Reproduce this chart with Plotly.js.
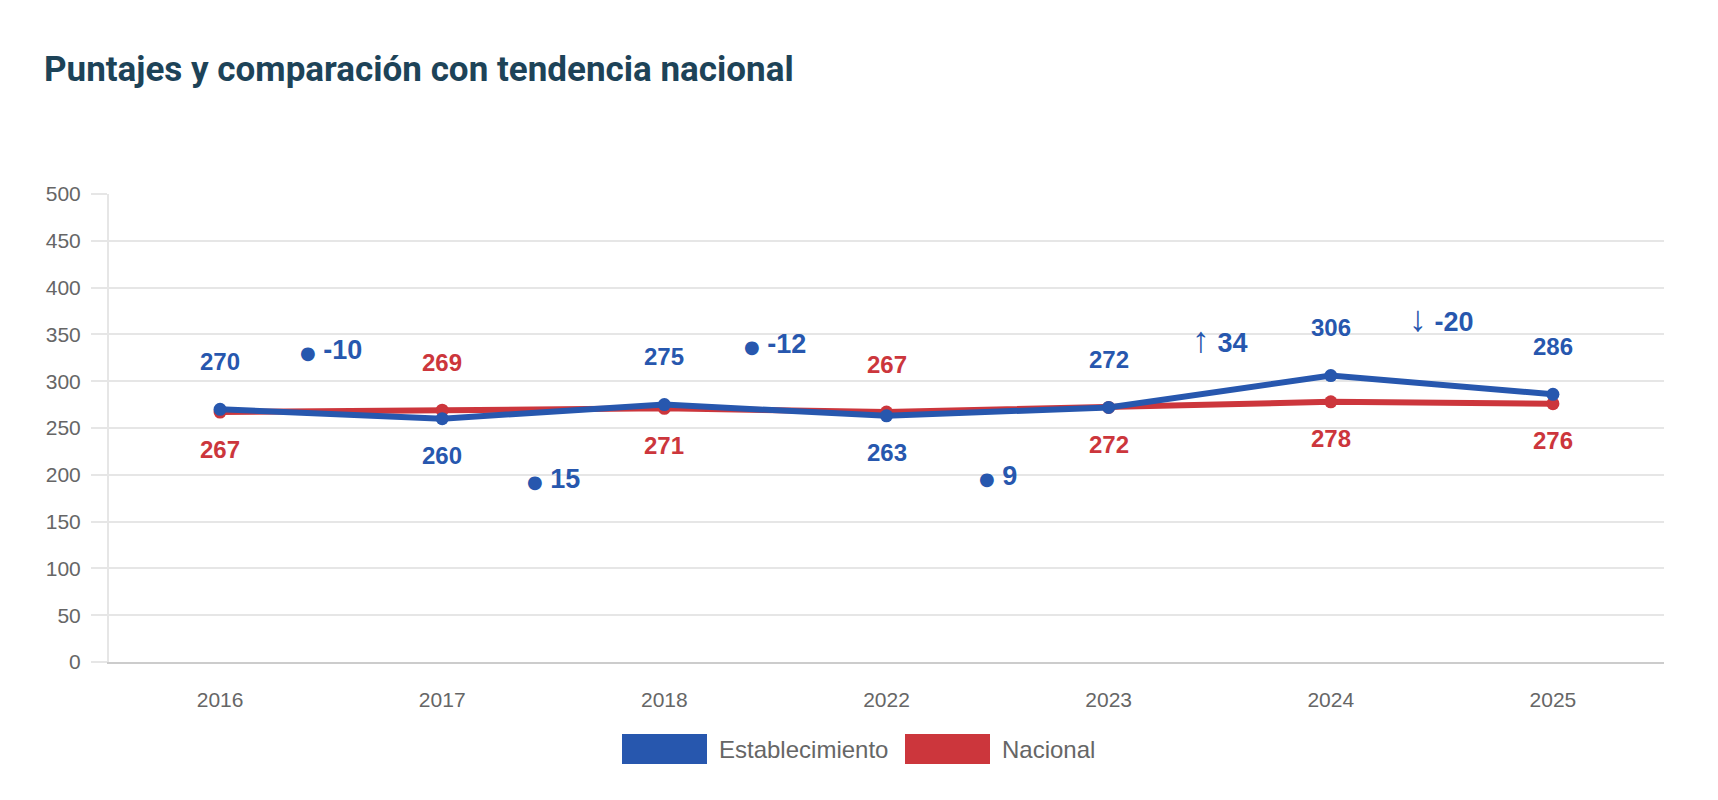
<!DOCTYPE html>
<html>
<head>
<meta charset="utf-8">
<script src="https://cdn.plot.ly/plotly-3.0.1.min.js"></script>
<style>
  html, body { margin: 0; padding: 0; background: #fff; }
  #chart_div { width: 1718px; height: 800px; }
</style>
</head>
<body>
<div id="chart_div"></div>
<script>
// values
var years = ['2016', '2017', '2018', '2022', '2023', '2024', '2025'];
var establecimiento = [270, 260, 275, 263, 272, 306, 286];
var nacional = [267, 269, 271, 267, 272, 278, 276];

// change between consecutive years (shown between the points)
var cambios = [-10, 15, -12, 9, 34, -20];
var cambiosMarca = ['dot', 'dot', 'dot', 'dot', 'up', 'down'];
var cambiosAltura = [333, 196, 340, 199, 345, 367];

var azul = '#2757ae';
var rojo = '#cc363c';
var gris = '#666666';

// plot area in pixels, used only for the hand made legend
var M = {l: 109, r: 54, t: 194, b: 138};
var W = 1718, H = 800;
var plotW = W - M.l - M.r, plotH = H - M.t - M.b;
function px2x(px) { return (px - M.l) / plotW; }
function px2y(py) { return (H - M.b - py) / plotH; }

var data = [
  {
    x: years, y: nacional, name: 'Nacional',
    type: 'scatter', mode: 'lines+markers',
    line: {color: rojo, width: 6},
    marker: {color: rojo, size: 13},
    hoverinfo: 'x+y'
  },
  {
    x: years, y: establecimiento, name: 'Establecimiento',
    type: 'scatter', mode: 'lines+markers',
    line: {color: azul, width: 6},
    marker: {color: azul, size: 13},
    hoverinfo: 'x+y'
  }
];

var annotations = [];
var fuente = 'Liberation Sans, Arial, sans-serif';

//value labels: higher series above the point, lower one below
for (var i = 0; i < years.length; i++) {
  var estArriba = establecimiento[i] >= nacional[i];
  annotations.push({
    x: i, y: establecimiento[i], xref: 'x', yref: 'y',
    text: '<b>' + establecimiento[i] + '</b>', showarrow: false,
    yshift: estArriba ? 48 : -37,
    font: {family: fuente, size: 24, color: azul}
  });
  annotations.push({
    x: i, y: nacional[i], xref: 'x', yref: 'y',
    text: '<b>' + nacional[i] + '</b>', showarrow: false,
    yshift: estArriba ? -37 : 48,
    font: {family: fuente, size: 24, color: rojo}
  });
}

//change labels between the years
for (var j = 0; j < cambios.length; j++) {
  var marca;
  if (cambiosMarca[j] == 'up') {
    marca = '<span style="font-weight:normal;font-size:36px">\u2191</span>';
  } else if (cambiosMarca[j] == 'down') {
    marca = '<span style="font-weight:normal;font-size:36px">\u2193</span>';
  } else {
    marca = '<span style="font-family:DejaVu Sans;font-size:18px">\u25CF</span>';
  }
  annotations.push({
    x: j + 0.5, y: cambiosAltura[j], xref: 'x', yref: 'y',
    text: marca + ' <b>' + cambios[j] + '</b>', showarrow: false,
    font: {family: fuente, size: 27, color: azul}
  });
}

//legend drawn by hand so the swatches can be wide boxes
var leyenda = [
  {name: 'Establecimiento', color: azul, x0: 622},
  {name: 'Nacional', color: rojo, x0: 905}
];
var shapes = [];
for (var k = 0; k < leyenda.length; k++) {
  shapes.push({
    type: 'rect', xref: 'paper', yref: 'paper',
    x0: px2x(leyenda[k].x0), x1: px2x(leyenda[k].x0 + 85),
    y0: px2y(764), y1: px2y(734),
    fillcolor: leyenda[k].color, line: {width: 0}
  });
  annotations.push({
    xref: 'paper', yref: 'paper',
    x: px2x(leyenda[k].x0 + 95), y: px2y(749),
    xanchor: 'left', yanchor: 'middle', showarrow: false,
    text: leyenda[k].name,
    font: {family: fuente, size: 24, color: gris}
  });
}

var layout = {
  width: W, height: H,
  margin: M,
  paper_bgcolor: '#ffffff',
  plot_bgcolor: '#ffffff',
  showlegend: false,
  hovermode: 'closest',
  title: {
    text: '<b>Puntajes y comparación con tendencia nacional</b>',
    font: {family: 'Roboto', size: 35, color: '#1d4358'},
    xref: 'container', yref: 'container',
    x: 44 / W, xanchor: 'left',
    y: 1 - 69 / H, yanchor: 'middle'
  },
  xaxis: {
    type: 'category',
    range: [-0.5, years.length - 0.5],
    showgrid: false,
    showline: true, linecolor: '#cccccc', linewidth: 2,
    ticks: '',
    ticklabelstandoff: 18,
    tickfont: {family: fuente, size: 21, color: gris},
    zeroline: false,
    fixedrange: true
  },
  yaxis: {
    range: [0, 500],
    dtick: 50,
    showgrid: true, gridcolor: '#e6e6e6', gridwidth: 2,
    showline: true, linecolor: '#e6e6e6', linewidth: 2,
    ticks: 'outside', ticklen: 16, tickcolor: '#e6e6e6', tickwidth: 2,
    ticklabelstandoff: 6,
    tickfont: {family: fuente, size: 21, color: gris},
    zeroline: false,
    fixedrange: true
  },
  annotations: annotations,
  shapes: shapes
};

Plotly.newPlot('chart_div', data, layout, {displayModeBar: false, responsive: false});
</script>
</body>
</html>
